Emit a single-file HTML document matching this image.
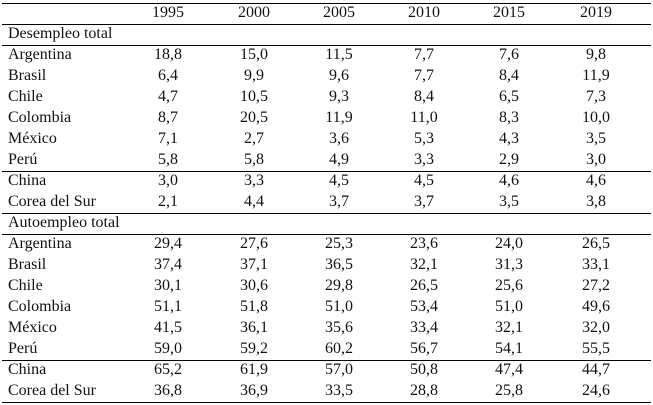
<!DOCTYPE html>
<html><head><meta charset="utf-8"><style>
body{margin:0;background:#fff;width:653px;height:405px;overflow:hidden;font-family:"Liberation Serif",serif;font-size:16px;color:#111}
.r{position:absolute;left:2px;width:649px;height:21px;line-height:21px}
.r span{position:absolute;top:0}
.l{left:6px}
.c{width:80px;text-align:center;margin-left:-40px}
.h{position:absolute;left:2px;width:649px;border-top:1px solid #000}
</style></head><body>
<div id="t"></div>
<script>
var rows=[
["","1995","2000","2005","2010","2015","2019"],
["Desempleo total"],
["Argentina","18,8","15,0","11,5","7,7","7,6","9,8"],
["Brasil","6,4","9,9","9,6","7,7","8,4","11,9"],
["Chile","4,7","10,5","9,3","8,4","6,5","7,3"],
["Colombia","8,7","20,5","11,9","11,0","8,3","10,0"],
["México","7,1","2,7","3,6","5,3","4,3","3,5"],
["Perú","5,8","5,8","4,9","3,3","2,9","3,0"],
["China","3,0","3,3","4,5","4,5","4,6","4,6"],
["Corea del Sur","2,1","4,4","3,7","3,7","3,5","3,8"],
["Autoempleo total"],
["Argentina","29,4","27,6","25,3","23,6","24,0","26,5"],
["Brasil","37,4","37,1","36,5","32,1","31,3","33,1"],
["Chile","30,1","30,6","29,8","26,5","25,6","27,2"],
["Colombia","51,1","51,8","51,0","53,4","51,0","49,6"],
["México","41,5","36,1","35,6","33,4","32,1","32,0"],
["Perú","59,0","59,2","60,2","56,7","54,1","55,5"],
["China","65,2","61,9","57,0","50,8","47,4","44,7"],
["Corea del Sur","36,8","36,9","33,5","28,8","25,8","24,6"]];
var xs=[168,254,339,424,509,596],h="";
rows.forEach(function(r,i){
 h+='<div class="r" style="top:'+(2+i*21)+'px"><span class="l">'+r[0]+'</span>';
 for(var j=1;j<r.length;j++)h+='<span class="c" style="left:'+(xs[j-1]-2)+'px">'+r[j]+'</span>';
 h+='</div>';});
[3,24,45,171,213,234,360,402].forEach(function(y){h+='<div class="h" style="top:'+y+'px"></div>';});
document.getElementById('t').innerHTML=h;
</script>
</body></html>
